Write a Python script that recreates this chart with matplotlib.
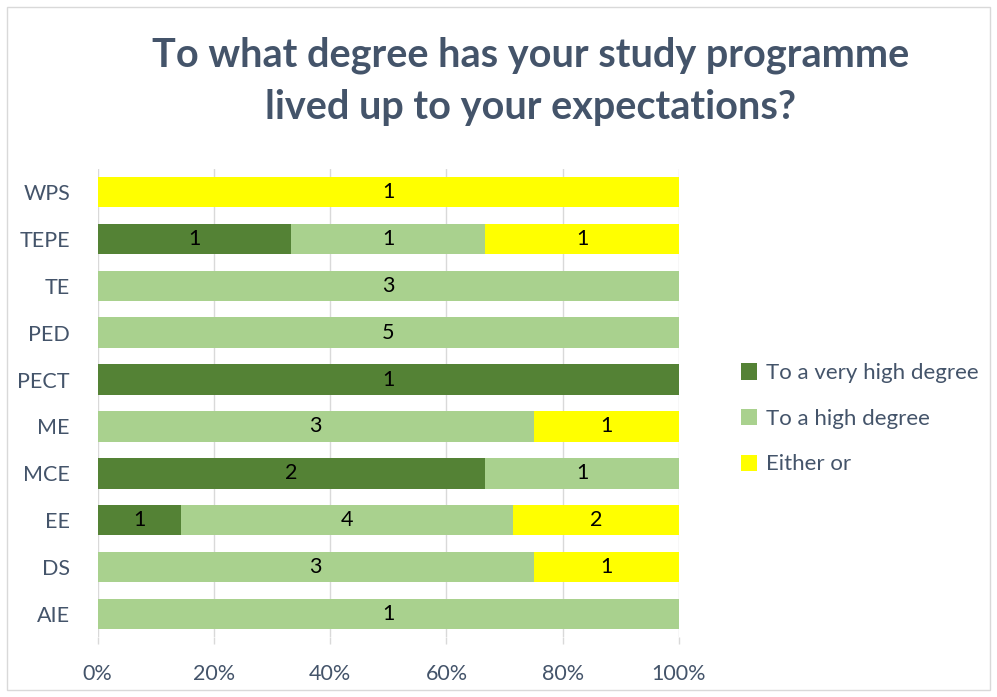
import numpy as np
import matplotlib.pyplot as plt
from matplotlib.patches import Rectangle

# Data
programmes = ['AIE', 'DS', 'EE', 'MCE', 'ME', 'PECT', 'PED', 'TE', 'TEPE', 'WPS']
very_high = [0, 0, 1, 2, 0, 1, 0, 0, 1, 0]
high = [1, 3, 4, 1, 3, 0, 5, 3, 1, 0]
either_or = [0, 1, 2, 0, 1, 0, 0, 0, 1, 1]
series_names = ['To a very high degree', 'To a high degree', 'Either or']
colors = ['#548235', '#A9D18E', '#FFFF00']
tick_labels = ['0%', '20%', '40%', '60%', '80%', '100%']

counts = np.array([very_high, high, either_or], dtype=float)
totals = counts.sum(axis=0)
shares = counts / totals

plt.rcParams['font.family'] = ['Lato', 'DejaVu Sans']
text_col = '#44546A'

fig = plt.figure(figsize=(9.97, 6.97), dpi=100)
fig.patches.append(Rectangle((0.007, 0.01), 0.986, 0.98, transform=fig.transFigure,
                             fill=False, edgecolor='#D9D9D9', linewidth=1))
ax = fig.add_axes([0.098, 0.0855, 0.583, 0.6725])

y = np.arange(len(programmes))
left = np.zeros(len(programmes))
for i in range(3):
    bars = ax.barh(y, shares[i], left=left, height=0.65, color=colors[i],
                   label=series_names[i], zorder=3)
    for j, b in enumerate(bars):
        if counts[i, j] > 0:
            ax.text(left[j] + shares[i, j] / 2, y[j], f'{int(counts[i, j])}',
                    ha='center', va='center', fontsize=15.5, color='black', zorder=4)
    left += shares[i]

ax.set_xlim(0, 1)
ax.set_ylim(-0.5, len(programmes) - 0.5)
ax.set_yticks(y)
ax.set_yticklabels(programmes)
ax.set_xticks(np.linspace(0, 1, 6))
ax.set_xticklabels(tick_labels)
ax.tick_params(axis='y', labelsize=15.5, labelcolor=text_col, length=0, pad=20)
ax.tick_params(axis='x', labelsize=15.5, labelcolor=text_col, length=5,
               color='#D9D9D9', width=1, pad=14)
ax.grid(axis='x', color='#D9D9D9', linewidth=1, zorder=0)
for s in ax.spines.values():
    s.set_visible(False)

fig.text(0.532, 0.883, 'To what degree has your study programme\nlived up to your expectations?',
         ha='center', va='center', fontsize=28.5, fontweight='bold', color=text_col,
         linespacing=1.5)

handles, labels = ax.get_legend_handles_labels()
fig.legend(handles, labels, loc='center left', bbox_to_anchor=(0.723, 0.399),
           frameon=False, fontsize=16, labelcolor=text_col, handlelength=0.75,
           handleheight=0.75, labelspacing=1.15, handletextpad=0.4)

plt.savefig('out.png', dpi=100)
